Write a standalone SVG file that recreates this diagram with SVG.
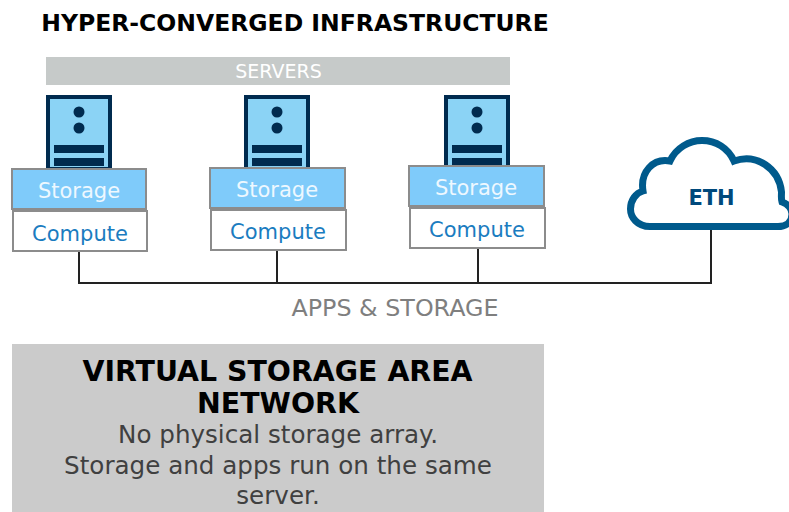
<svg xmlns="http://www.w3.org/2000/svg" width="789" height="512" viewBox="0 0 789 512">
<style>
text{font-family:"DejaVu Sans",Verdana,sans-serif;text-anchor:middle}
.tower{fill:#8bd3f5;stroke:#002b4f;stroke-width:4}
.dark{fill:#002b4f}
.st{fill:#7fcbfa;stroke:#8c8c8c;stroke-width:2}
.cp{fill:#fff;stroke:#8c8c8c;stroke-width:2}
.stt{font-size:21px;fill:#eef8ff}
.cpt{font-size:21px;fill:#1a7cc0}
.wire{fill:none;stroke:#222;stroke-width:2}
</style>
<defs>
<g id="tower">
<rect class="tower" x="2" y="2" width="62" height="72"/>
<circle class="dark" cx="33" cy="17" r="5.5"/>
<circle class="dark" cx="33" cy="33" r="5.5"/>
<rect class="dark" x="8" y="50" width="50" height="8"/>
<rect class="dark" x="8" y="63" width="50" height="8"/>
</g>
</defs>
<rect width="789" height="512" fill="#fff"/>
<text id="title" x="295" y="31" font-size="23.500" font-weight="bold" fill="#000">HYPER-CONVERGED INFRASTRUCTURE</text>
<g id="servers-bar"><rect x="46" y="57" width="464" height="28" fill="#c6cac9"/><text x="278.500" y="78" font-size="19" fill="#fff">SERVERS</text></g>
<g id="connectors">
<path class="wire" d="M79 252V283H711V230M277 251V283M478 249V283"/>
</g>
<g id="server-1"><use href="#tower" x="46" y="95"/><rect class="st" x="12" y="169" width="134" height="40"/><text class="stt" x="79" y="198">Storage</text><rect class="cp" x="13" y="211" width="134" height="40"/><text class="cpt" x="80" y="241">Compute</text></g>
<g id="server-2"><use href="#tower" x="244" y="95"/><rect class="st" x="210" y="168" width="135" height="40"/><text class="stt" x="277" y="197">Storage</text><rect class="cp" x="211" y="210" width="135" height="40"/><text class="cpt" x="278" y="239">Compute</text></g>
<g id="server-3"><use href="#tower" x="444" y="95"/><rect class="st" x="409" y="166" width="135" height="40"/><text class="stt" x="476" y="195">Storage</text><rect class="cp" x="410" y="208" width="135" height="40"/><text class="cpt" x="477" y="237">Compute</text></g>
<g id="eth">
<path d="M650 226.500C637 226.500 630.500 217 630.500 209C630.500 200 636 193 643 191C640 172 653 158 670 161C676 148 689 140.500 702 140.500C716 140.500 728 148 734 161C756 153 779 168 781.500 192C781.500 196 781 199 782 202C788 204 792 209 792 214C792 222 786 226.500 778 226.500Z" fill="#fff" stroke="#005a8c" stroke-width="7" stroke-linejoin="miter"/>
<text x="711.500" y="205" font-size="21" font-weight="bold" fill="#00497c">ETH</text>
</g>
<text id="apps-label" x="395" y="316" font-size="23.800" fill="#7f7f7f">APPS &amp; STORAGE</text>
<g id="vsan">
<rect x="12" y="344" width="532" height="168" fill="#cbcbcb"/>
<text x="277.500" y="381" font-size="28.400" font-weight="bold" fill="#000">VIRTUAL STORAGE AREA</text>
<text x="278" y="413" font-size="28.400" font-weight="bold" fill="#000">NETWORK</text>
<text x="278" y="443" font-size="24.600" fill="#404040">No physical storage array.</text>
<text x="278" y="474" font-size="24.600" fill="#404040">Storage and apps run on the same</text>
<text x="278" y="504" font-size="24.600" fill="#404040">server.</text>
</g>
</svg>
